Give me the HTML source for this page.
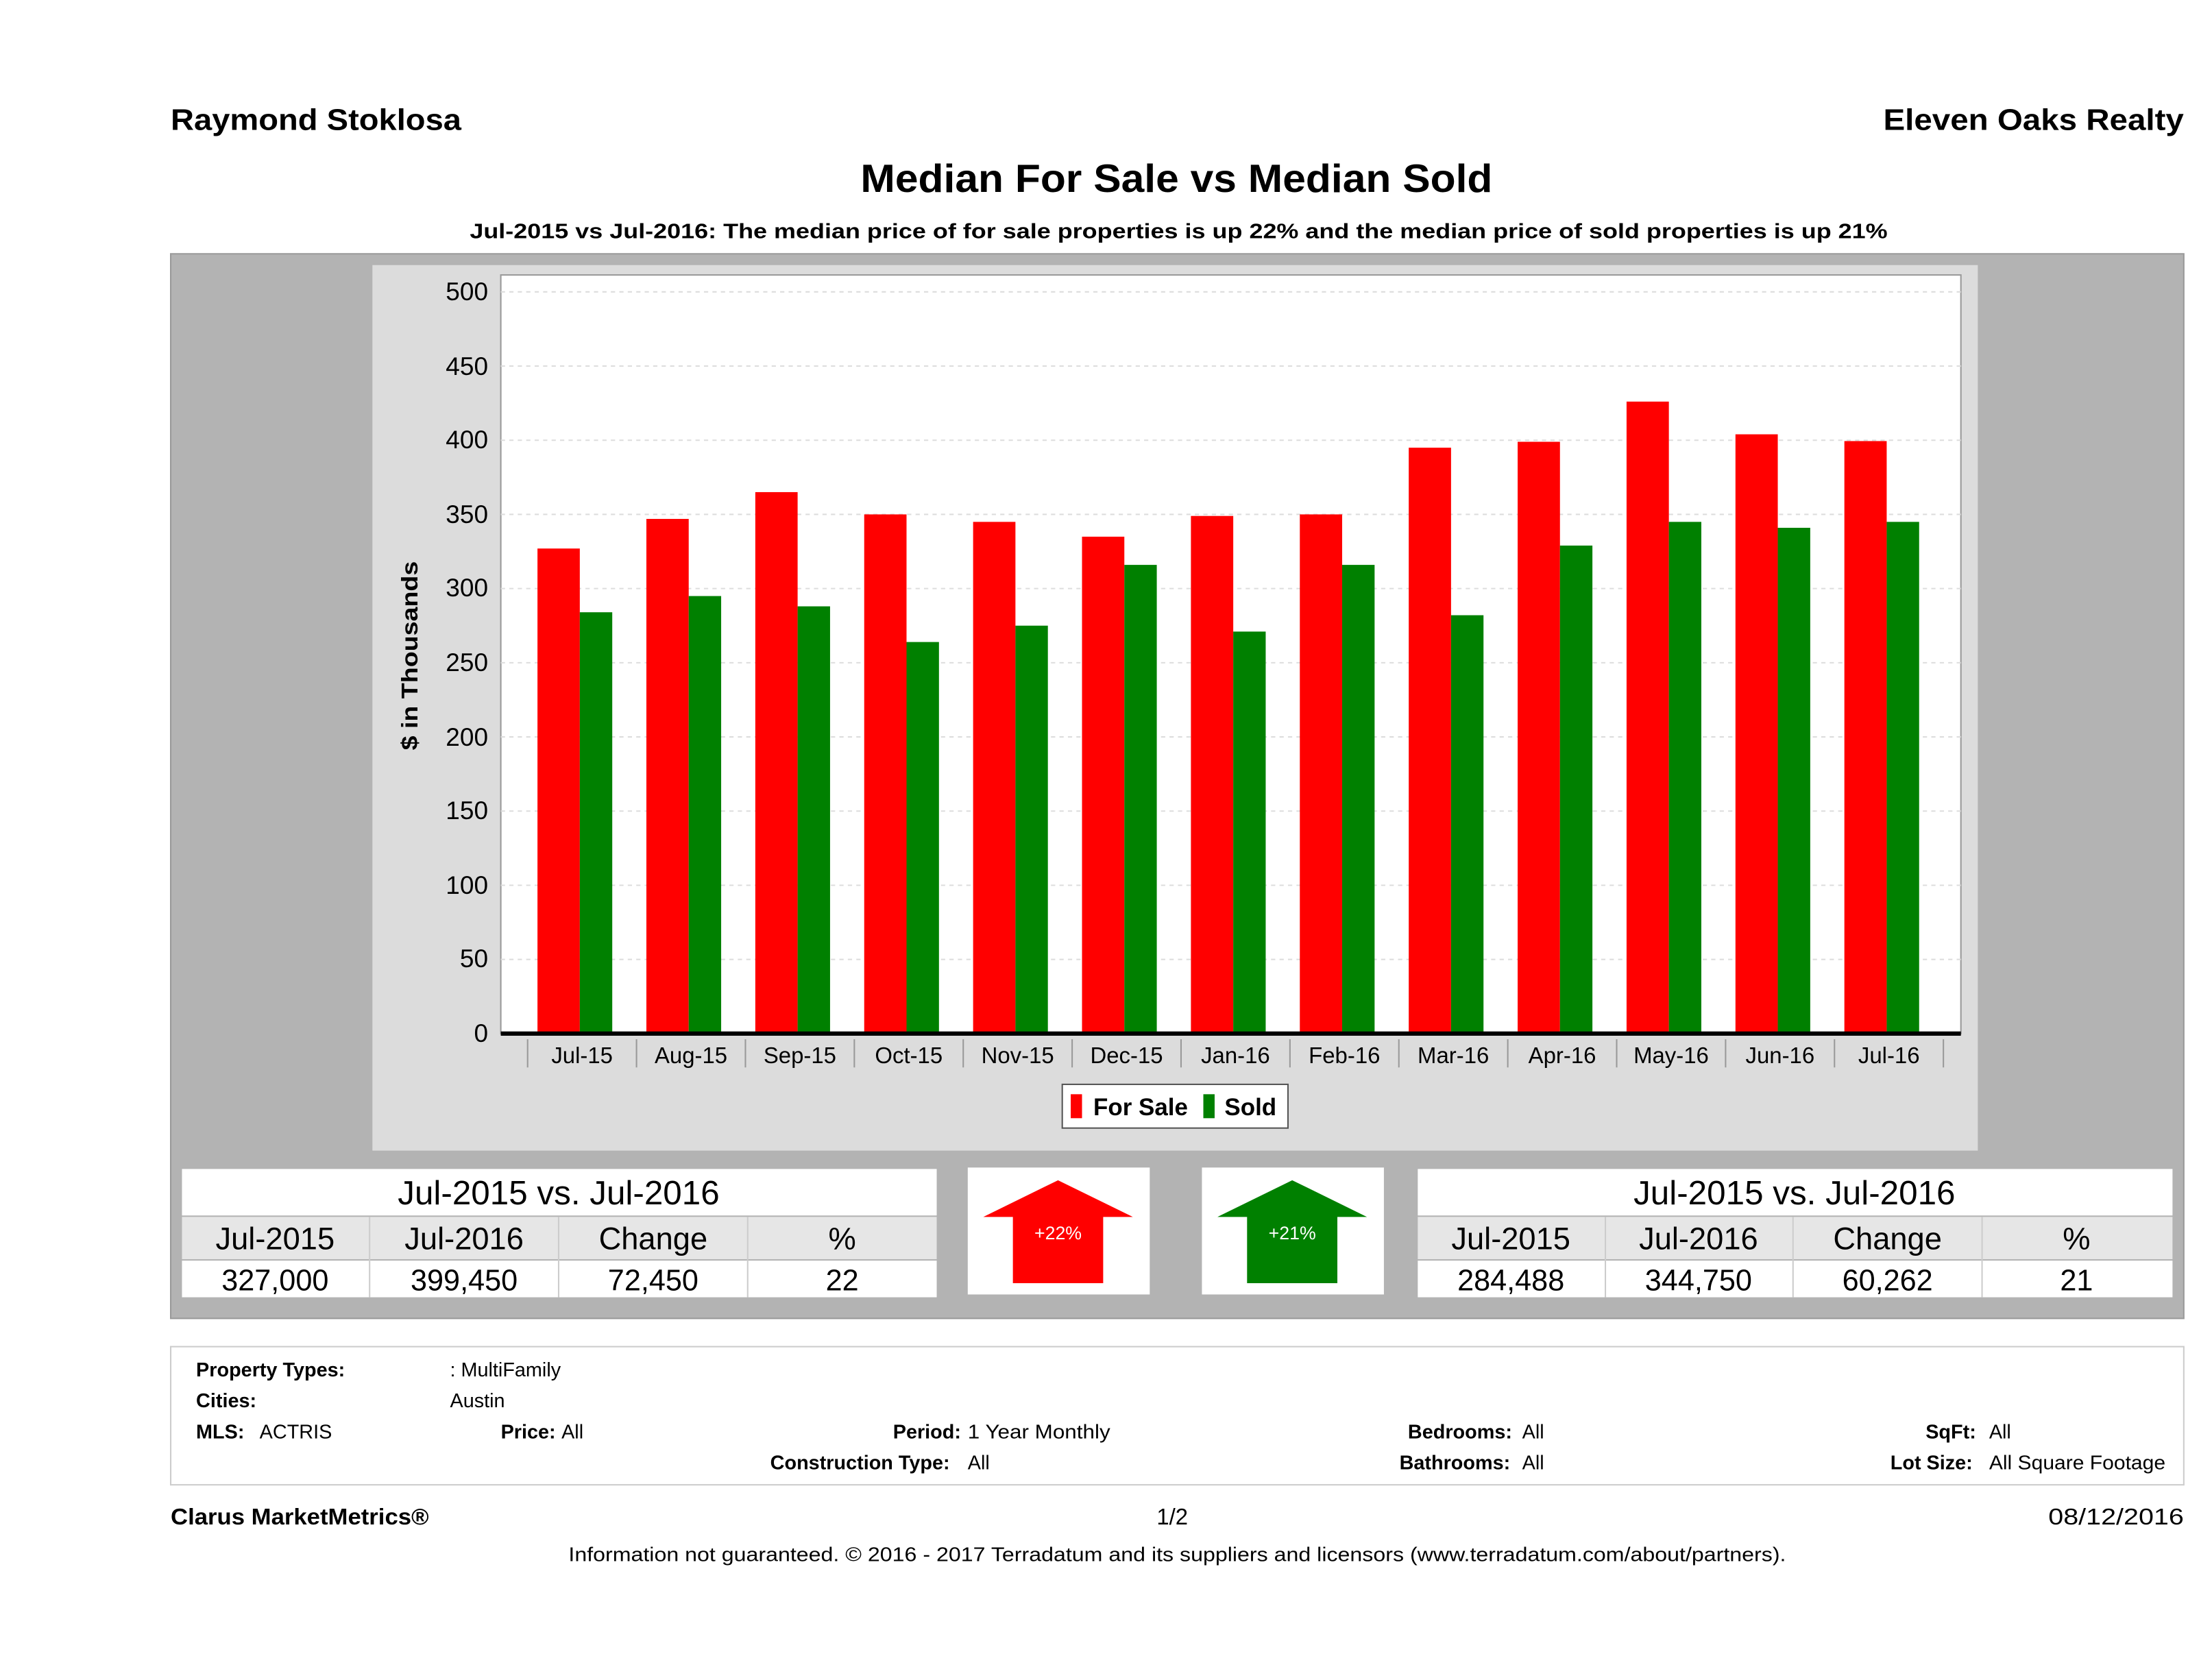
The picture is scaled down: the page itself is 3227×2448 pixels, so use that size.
<!DOCTYPE html>
<html><head><meta charset="utf-8"><style>
html,body{margin:0;padding:0;background:#fff;overflow:hidden;width:3227px;height:2448px}
svg{display:block}
text{font-family:"Liberation Sans",sans-serif;fill:#000}
.b{font-weight:bold}
</style></head><body>
<svg width="3227" height="2448" viewBox="0 0 1568 1190" preserveAspectRatio="none" xmlns="http://www.w3.org/2000/svg">
<text x="121" y="92" font-size="21" class="b" textLength="206" lengthAdjust="spacingAndGlyphs">Raymond Stoklosa</text>
<text x="1335" y="92" font-size="21" class="b" textLength="213" lengthAdjust="spacingAndGlyphs">Eleven Oaks Realty</text>
<text x="610" y="136" font-size="28" class="b" textLength="448" lengthAdjust="spacingAndGlyphs">Median For Sale vs Median Sold</text>
<text x="333" y="169" font-size="15" class="b" textLength="1005" lengthAdjust="spacingAndGlyphs">Jul-2015 vs Jul-2016: The median price of for sale properties is up 22% and the median price of sold properties is up 21%</text>

<rect x="121" y="180" width="1427" height="755" fill="#b3b3b3" stroke="#999"/>
<rect x="264" y="188" width="1138" height="628" fill="#dcdcdc"/>
<rect x="355" y="195" width="1035" height="538" fill="#fff" stroke="#999"/>
<g stroke="#ddd" stroke-dasharray="3,3" stroke-width="1">
<line x1="355" x2="1390" y1="207" y2="207"/><line x1="355" x2="1390" y1="259.6" y2="259.6"/><line x1="355" x2="1390" y1="312.2" y2="312.2"/><line x1="355" x2="1390" y1="364.8" y2="364.8"/><line x1="355" x2="1390" y1="417.4" y2="417.4"/><line x1="355" x2="1390" y1="470" y2="470"/><line x1="355" x2="1390" y1="522.6" y2="522.6"/><line x1="355" x2="1390" y1="575.2" y2="575.2"/><line x1="355" x2="1390" y1="627.8" y2="627.8"/><line x1="355" x2="1390" y1="680.4" y2="680.4"/>
</g>
<g font-size="18" text-anchor="end">
<text x="346" y="213">500</text><text x="346" y="266">450</text><text x="346" y="318">400</text><text x="346" y="371">350</text><text x="346" y="423">300</text><text x="346" y="476">250</text><text x="346" y="529">200</text><text x="346" y="581">150</text><text x="346" y="634">100</text><text x="346" y="686">50</text><text x="346" y="739">0</text>
</g>
<text transform="translate(296,465) rotate(-90)" font-size="16" class="b" text-anchor="middle" textLength="134" lengthAdjust="spacingAndGlyphs">$ in Thousands</text>
<g fill="#ff0000">
<rect x="381" y="389" width="30" height="344"/><rect x="458.2" y="368" width="30" height="365"/><rect x="535.4" y="349" width="30" height="384"/><rect x="612.6" y="364.8" width="30" height="368.2"/><rect x="689.8" y="370.1" width="30" height="362.9"/><rect x="767" y="380.6" width="30" height="352.4"/><rect x="844.2" y="365.9" width="30" height="367.1"/><rect x="921.4" y="364.8" width="30" height="368.2"/><rect x="998.6" y="317.5" width="30" height="415.5"/><rect x="1075.8" y="313.3" width="30" height="419.7"/><rect x="1153" y="284.8" width="30" height="448.2"/><rect x="1230.2" y="308" width="30" height="425"/><rect x="1307.4" y="312.8" width="30" height="420.2"/>
</g>
<g fill="#008000">
<rect x="411" y="434.2" width="23" height="298.8"/><rect x="488.2" y="422.7" width="23" height="310.3"/><rect x="565.4" y="430" width="23" height="303"/><rect x="642.6" y="455.3" width="23" height="277.7"/><rect x="719.8" y="443.7" width="23" height="289.3"/><rect x="797" y="400.6" width="23" height="332.4"/><rect x="874.2" y="447.9" width="23" height="285.1"/><rect x="951.4" y="400.6" width="23" height="332.4"/><rect x="1028.6" y="436.3" width="23" height="296.7"/><rect x="1105.8" y="386.9" width="23" height="346.1"/><rect x="1183" y="370.1" width="23" height="362.9"/><rect x="1260.2" y="374.3" width="23" height="358.7"/><rect x="1337.4" y="370.1" width="23" height="362.9"/>
</g>
<line x1="355" x2="1390" y1="733" y2="733" stroke="#000" stroke-width="3"/>
<g stroke="#999" stroke-width="1">
<line x1="374" x2="374" y1="737" y2="757"/><line x1="451.2" x2="451.2" y1="737" y2="757"/><line x1="528.4" x2="528.4" y1="737" y2="757"/><line x1="605.6" x2="605.6" y1="737" y2="757"/><line x1="682.8" x2="682.8" y1="737" y2="757"/><line x1="760" x2="760" y1="737" y2="757"/><line x1="837.2" x2="837.2" y1="737" y2="757"/><line x1="914.4" x2="914.4" y1="737" y2="757"/><line x1="991.6" x2="991.6" y1="737" y2="757"/><line x1="1068.8" x2="1068.8" y1="737" y2="757"/><line x1="1146" x2="1146" y1="737" y2="757"/><line x1="1223.2" x2="1223.2" y1="737" y2="757"/><line x1="1300.4" x2="1300.4" y1="737" y2="757"/><line x1="1377.6" x2="1377.6" y1="737" y2="757"/>
</g>
<g font-size="16" text-anchor="middle">
<text x="412.6" y="754">Jul-15</text><text x="489.8" y="754">Aug-15</text><text x="567" y="754">Sep-15</text><text x="644.2" y="754">Oct-15</text><text x="721.4" y="754">Nov-15</text><text x="798.6" y="754">Dec-15</text><text x="875.8" y="754">Jan-16</text><text x="953" y="754">Feb-16</text><text x="1030.2" y="754">Mar-16</text><text x="1107.4" y="754">Apr-16</text><text x="1184.6" y="754">May-16</text><text x="1261.8" y="754">Jun-16</text><text x="1339" y="754">Jul-16</text>
</g>
<rect x="753" y="769" width="160" height="31" fill="#fff" stroke="#555"/>
<rect x="759" y="776" width="8" height="17" fill="#ff0000"/>
<text x="775" y="791" font-size="17" class="b">For Sale</text>
<rect x="853" y="776" width="8" height="17" fill="#008000"/>
<text x="868" y="791" font-size="17" class="b">Sold</text>

<rect x="129" y="829" width="535" height="33" fill="#fff"/>
<rect x="129" y="863" width="535" height="30" fill="#e6e6e6"/>
<rect x="129" y="894" width="535" height="26" fill="#fff"/>
<g stroke="#ccc"><line x1="262" x2="262" y1="863" y2="920"/><line x1="396" x2="396" y1="863" y2="920"/><line x1="530" x2="530" y1="863" y2="920"/></g>
<text x="396" y="854" font-size="24" text-anchor="middle">Jul-2015 vs. Jul-2016</text>
<g font-size="22" text-anchor="middle"><text x="195" y="886">Jul-2015</text><text x="329" y="886">Jul-2016</text><text x="463" y="886">Change</text><text x="597" y="886">%</text></g>
<g font-size="21" text-anchor="middle"><text x="195" y="915">327,000</text><text x="329" y="915">399,450</text><text x="463" y="915">72,450</text><text x="597" y="915">22</text></g>

<rect x="686" y="828" width="129" height="90" fill="#fff"/>
<polygon points="750,837 803,863 782,863 782,910 718,910 718,863 697,863" fill="#ff0000"/>
<text x="750" y="879" font-size="13" text-anchor="middle" style="fill:#fff">+22%</text>
<rect x="852" y="828" width="129" height="90" fill="#fff"/>
<polygon points="916,837 969,863 948,863 948,910 884,910 884,863 863,863" fill="#008000"/>
<text x="916" y="879" font-size="13" text-anchor="middle" style="fill:#fff">+21%</text>

<rect x="1005" y="829" width="535" height="33" fill="#fff"/>
<rect x="1005" y="863" width="535" height="30" fill="#e6e6e6"/>
<rect x="1005" y="894" width="535" height="26" fill="#fff"/>
<g stroke="#ccc"><line x1="1138" x2="1138" y1="863" y2="920"/><line x1="1271" x2="1271" y1="863" y2="920"/><line x1="1405" x2="1405" y1="863" y2="920"/></g>
<text x="1272" y="854" font-size="24" text-anchor="middle">Jul-2015 vs. Jul-2016</text>
<g font-size="22" text-anchor="middle"><text x="1071" y="886">Jul-2015</text><text x="1204" y="886">Jul-2016</text><text x="1338" y="886">Change</text><text x="1472" y="886">%</text></g>
<g font-size="21" text-anchor="middle"><text x="1071" y="915">284,488</text><text x="1204" y="915">344,750</text><text x="1338" y="915">60,262</text><text x="1472" y="915">21</text></g>

<rect x="121" y="955" width="1427" height="98" fill="#fff" stroke="#ccc"/>
<g font-size="14">
<text x="139" y="976" class="b">Property Types:</text><text x="319" y="976">: MultiFamily</text>
<text x="139" y="998" class="b">Cities:</text><text x="319" y="998">Austin</text>
<text x="139" y="1020" class="b">MLS:</text><text x="184" y="1020">ACTRIS</text>
<text x="355" y="1020" class="b">Price:</text><text x="398" y="1020">All</text>
<text x="633" y="1020" class="b">Period:</text><text x="686" y="1020" textLength="101" lengthAdjust="spacingAndGlyphs">1 Year Monthly</text>
<text x="546" y="1042" class="b">Construction Type:</text><text x="686" y="1042">All</text>
<text x="998" y="1020" class="b">Bedrooms:</text><text x="1079" y="1020">All</text>
<text x="992" y="1042" class="b">Bathrooms:</text><text x="1079" y="1042">All</text>
<text x="1365" y="1020" class="b">SqFt:</text><text x="1410" y="1020">All</text>
<text x="1340" y="1042" class="b">Lot Size:</text><text x="1410" y="1042" textLength="125" lengthAdjust="spacingAndGlyphs">All Square Footage</text>
</g>
<text x="121" y="1081" font-size="16" class="b" textLength="183" lengthAdjust="spacingAndGlyphs">Clarus MarketMetrics®</text>
<text x="831" y="1081" font-size="16" text-anchor="middle">1/2</text>
<text x="1452" y="1081" font-size="16" textLength="96" lengthAdjust="spacingAndGlyphs">08/12/2016</text>
<text x="403" y="1107" font-size="14" textLength="863" lengthAdjust="spacingAndGlyphs">Information not guaranteed. © 2016 - 2017 Terradatum and its suppliers and licensors (www.terradatum.com/about/partners).</text>
</svg>
</body></html>
